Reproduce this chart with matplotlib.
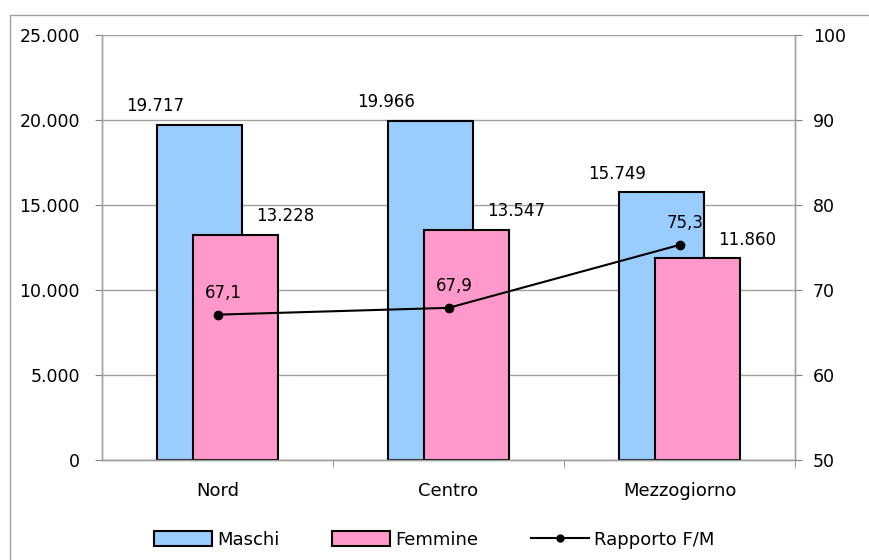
import numpy as np
import matplotlib.pyplot as plt
from matplotlib.patches import Rectangle
from matplotlib.lines import Line2D

plt.rcParams['font.family'] = ['DejaVu Sans']

# data
aree = ['Nord', 'Centro', 'Mezzogiorno']
maschi = [19717, 19966, 15749]
femmine = [13228, 13547, 11860]
rapporto = [67.1, 67.9, 75.3]

def fmt_it(v):
    return f'{v:,.0f}'.replace(',', '.')

fig = plt.figure(figsize=(8.69, 5.6), dpi=100)
# outer chart border
fig.patches.append(Rectangle((10/869, -0.01), 1.0, 1 - 15/560 + 0.01,
                             transform=fig.transFigure, fill=False,
                             edgecolor='#a0a0a0', linewidth=1.0))

ax = fig.add_axes([102/869, 1 - 460/560, 693/869, 425/560])
ax2 = ax.twinx()
ax.set_zorder(ax2.get_zorder() - 1)
ax.patch.set_visible(True)
ax2.patch.set_visible(False)

x = np.arange(len(aree))
w = 0.368
off = 0.076

ax.bar(x - off, maschi, w, color='#99CCFF', edgecolor='black', linewidth=1.5, zorder=2)
ax.bar(x + off, femmine, w, color='#FF99CC', edgecolor='black', linewidth=1.5, zorder=3)

for xi, v in zip(x, maschi):
    ax.annotate(fmt_it(v), (xi - off, v), xytext=(-32, 7), textcoords='offset points',
                ha='center', va='bottom', fontsize=12)
for xi, v in zip(x, femmine):
    ax.annotate(fmt_it(v), (xi + off, v), xytext=(36, 7), textcoords='offset points',
                ha='center', va='bottom', fontsize=12)

ax.set_ylim(0, 25000)
ax.set_yticks(np.arange(0, 25001, 5000))
ax.set_yticklabels([fmt_it(v) for v in np.arange(0, 25001, 5000)], fontsize=12.5)
ax.set_xlim(-0.5, 2.5)
ax.set_xticks(x)
ax.set_xticklabels(aree, fontsize=13)
ax.tick_params(axis='x', length=0, pad=16)
ax.set_xticks([0.5, 1.5, 2.5], minor=True)
ax.tick_params(axis='x', which='minor', length=5, color='#808080', direction='out')
ax.tick_params(axis='y', length=5, color='#808080', pad=11)
ax.grid(axis='y', color='#a0a0a0', linewidth=1.0, zorder=0)
ax.set_axisbelow(True)

ax2.plot(x, rapporto, color='black', linewidth=1.5, marker='o', markersize=6, zorder=5)
for xi, v in zip(x, rapporto):
    ax2.annotate(f'{v:.1f}'.replace('.', ','), (xi, v), xytext=(4, 9),
                 textcoords='offset points', ha='center', va='bottom', fontsize=12)
ax2.set_ylim(50, 100)
ax2.set_yticks(np.arange(50, 101, 10))
ax2.tick_params(axis='y', length=5, color='#808080', labelsize=12.5, pad=8)

for a in (ax, ax2):
    a.spines['top'].set_visible(False)
    for s in ('left', 'right', 'bottom'):
        a.spines[s].set_color('#a0a0a0')
        a.spines[s].set_linewidth(1.0)

handles = [
    Rectangle((0, 0), 1, 1, facecolor='#99CCFF', edgecolor='black', linewidth=1.5),
    Rectangle((0, 0), 1, 1, facecolor='#FF99CC', edgecolor='black', linewidth=1.5),
    Line2D([0], [0], color='black', linewidth=1.5, marker='o', markersize=5),
]
fig.legend(handles, ['Maschi', 'Femmine', 'Rapporto F/M'], loc='center',
           bbox_to_anchor=(0.5, 1 - 540/560), ncol=3, frameon=False,
           fontsize=13, handlelength=3.2, handleheight=0.9, handletextpad=0.3,
           columnspacing=2.9)

fig.savefig('out.png', dpi=100)
